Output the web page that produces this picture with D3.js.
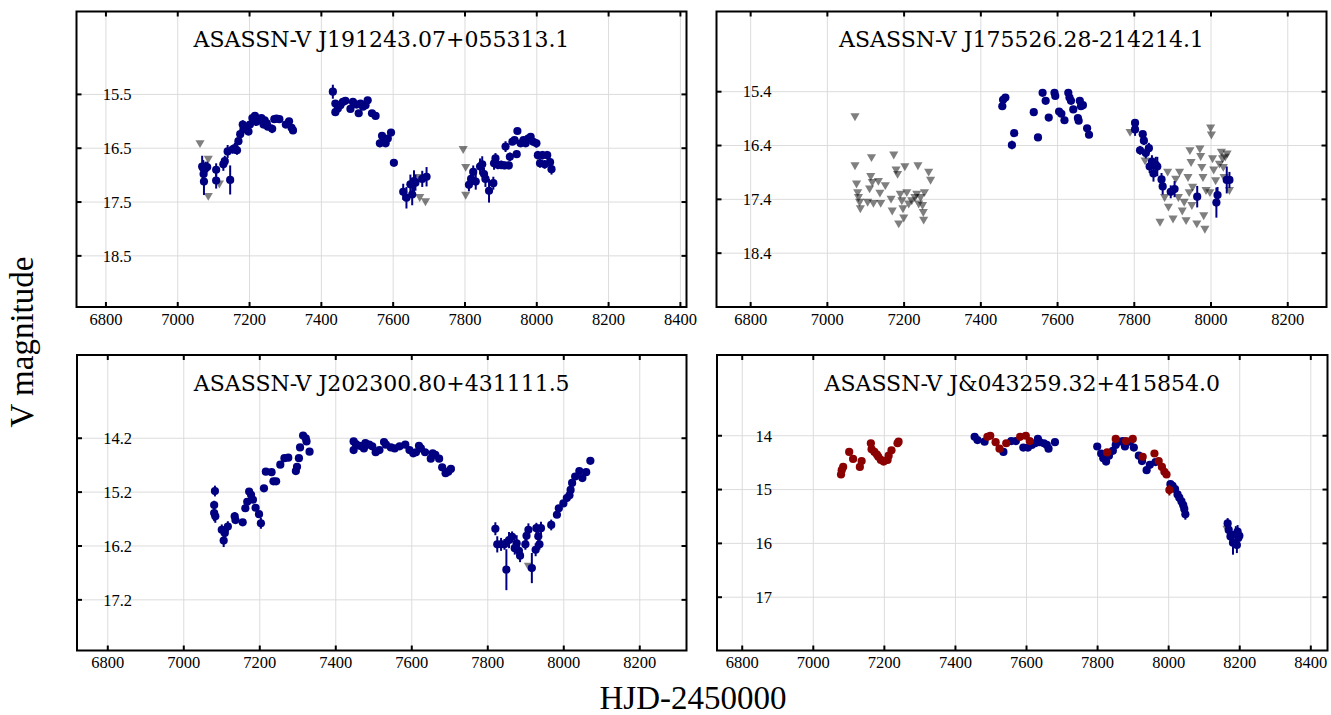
<!DOCTYPE html>
<html>
<head>
<meta charset="utf-8">
<script src="https://cdn.jsdelivr.net/npm/d3@7"></script>
<style>
  body { margin: 0; background: #fff; }
  svg { display: block; }
</style>
</head>
<body>
<div id="chart"></div>
<script>
// ---- data: [HJD-2450000, V mag, error] for detections, [HJD, limit] for upper limits ----
const p1Det = [
  [7068,16.84,0.20],[7071,16.87,0.15],[7072,16.98,0.12],[7073,17.12,0.25],[7077,16.87,0.12],[7082,16.85,0.10],
  [7107,16.90,0.12],[7107,17.10,0.15],[7127,16.80,0.12],[7131,16.74,0.10],[7139,16.56,0.12],[7146,17.09,0.27],
  [7153,16.52,0.08],[7159,16.50,0.10],[7165,16.54,0.08],[7169,16.37,0.06],[7174,16.24,0.06],[7181,16.06,0.08],
  [7183,16.15,0.06],[7192,16.14,0.05],[7197,16.19,0.05],[7201,16.06,0.05],[7208,15.94,0.05],[7215,15.90,0.04],
  [7219,16.01,0.05],[7229,15.96,0.05],[7233,15.94,0.05],[7239,16.06,0.05],[7242,15.98,0.05],[7248,16.04,0.05],
  [7251,16.10,0.05],[7263,16.14,0.08],[7269,15.96,0.04],[7275,15.95,0.04],[7283,15.96,0.04],[7301,16.06,0.05],
  [7310,16.00,0.04],[7317,16.12,0.05],[7321,16.17,0.05],
  [7432,15.45,0.13],[7439,15.67,0.05],[7439,15.83,0.04],[7446,15.76,0.04],[7453,15.70,0.04],[7460,15.64,0.04],
  [7467,15.62,0.04],[7481,15.77,0.05],[7488,15.64,0.04],[7498,15.69,0.05],[7504,15.85,0.06],[7509,15.67,0.04],
  [7516,15.73,0.05],[7523,15.70,0.04],[7529,15.61,0.04],[7541,15.85,0.04],[7551,15.90,0.04],[7563,16.41,0.07],
  [7569,16.27,0.06],[7574,16.37,0.06],[7579,16.41,0.05],[7585,16.32,0.06],[7594,16.21,0.06],[7602,16.77,0.07],
  [7628,17.31,0.15],[7637,17.42,0.20],[7648,17.17,0.18],[7653,17.36,0.20],[7658,17.11,0.20],[7662,17.14,0.15],
  [7681,17.07,0.15],[7693,17.03,0.18],
  [7811,17.18,0.12],[7817,17.07,0.15],[7823,16.94,0.12],[7830,17.12,0.15],[7842,16.84,0.15],[7848,16.80,0.15],
  [7853,16.98,0.12],[7857,17.07,0.15],[7867,17.29,0.22],[7879,17.15,0.12],[7881,16.78,0.12],[7885,16.69,0.10],
  [7892,16.81,0.08],[7901,16.81,0.08],[7910,16.82,0.07],[7913,16.47,0.10],[7922,16.82,0.07],[7925,16.66,0.08],
  [7932,16.38,0.06],[7938,16.35,0.06],[7944,16.61,0.06],[7946,16.18,0.05],[7955,16.41,0.06],[7963,16.35,0.06],
  [7969,16.41,0.06],[7976,16.32,0.06],[7983,16.29,0.07],[7990,16.38,0.07],[7999,16.41,0.08],[8003,16.63,0.08],
  [8009,16.78,0.08],[8016,16.63,0.08],[8022,16.80,0.08],[8029,16.63,0.08],[8037,16.76,0.08],[8041,16.89,0.10]
];
const p1Lim = [
  [7062,16.40],[7085,16.69],[7085,17.38],[7116,17.15],[7672,17.03],[7674,17.40],[7690,17.48],
  [7795,16.51],[7802,16.84],[7802,17.36]
];

const p2Det = [
  [7456,15.67,0.04],[7458,15.55,0.04],[7464,15.51,0.05],[7481,16.39,0.08],[7487,16.17,0.06],[7538,15.78,0.04],
  [7549,16.25,0.06],[7561,15.42,0.04],[7569,15.57,0.04],[7577,15.88,0.04],[7592,15.42,0.04],[7594,15.48,0.04],
  [7604,15.77,0.04],[7610,15.81,0.04],[7618,15.93,0.06],[7628,15.42,0.04],[7631,15.51,0.04],[7635,15.57,0.04],
  [7641,15.73,0.04],[7653,15.89,0.04],[7655,15.94,0.04],[7658,15.57,0.04],[7661,15.67,0.04],[7666,15.65,0.04],
  [7677,16.08,0.06],[7682,16.20,0.06],
  [7802,15.98,0.06],[7802,16.10,0.12],[7815,16.49,0.08],[7822,16.19,0.06],[7825,16.31,0.08],[7830,16.54,0.10],
  [7838,16.45,0.10],[7840,16.79,0.12],[7846,16.70,0.12],[7850,16.92,0.15],[7856,16.76,0.15],[7860,16.79,0.18],
  [7871,17.03,0.12],[7874,17.16,0.15],[7895,17.26,0.12],[7905,17.21,0.15],[7964,17.35,0.20],[8014,17.46,0.28],
  [8017,17.32,0.15],[8041,17.04,0.25],[8048,17.04,0.15]
];
const p2Lim = [
  [7072,15.85],[7072,16.76],[7076,17.10],[7079,17.26],[7081,17.35],[7084,17.44],[7086,17.56],[7105,17.44],
  [7110,17.19],[7113,16.96],[7115,16.61],[7117,17.07],[7120,17.46],[7133,17.05],[7137,17.27],[7139,17.46],
  [7151,17.13],[7166,17.38],[7169,17.60],[7173,16.56],[7179,16.84],[7183,16.92],[7186,17.84],[7190,17.29],
  [7194,17.41],[7197,17.56],[7199,17.73],[7202,16.78],[7207,17.26],[7212,17.47],[7220,17.41],[7228,17.35],
  [7233,17.29],[7236,16.76],[7238,17.47],[7243,17.35],[7248,17.50],[7250,17.63],[7251,17.77],[7253,17.26],
  [7264,16.88],[7269,17.03],
  [7789,16.14],[7828,16.67],[7867,17.81],[7879,17.35],[7887,16.88],[7889,17.53],[7901,17.75],[7908,17.01],
  [7915,17.35],[7918,16.88],[7925,17.60],[7930,17.44],[7935,17.78],[7940,16.98],[7943,17.26],[7945,16.48],
  [7948,16.70],[7950,17.50],[7952,17.16],[7963,17.84],[7971,16.45],[7973,16.59],[7976,16.79],[7979,16.98],
  [7981,17.69],[7984,17.94],[7987,17.22],[7997,17.26],[7999,16.06],[8001,16.19],[8004,16.63],[8007,16.84],
  [8012,17.04],[8022,16.73],[8027,16.51],[8030,16.63],[8032,16.79],[8034,16.98],[8037,16.60],[8042,16.54],
  [8048,17.22]
];

const p3Det = [
  [7080,15.59,0.15],[7080,15.44,0.08],[7082,15.18,0.10],[7083,15.65,0.12],[7100,15.90,0.10],[7105,16.10,0.12],
  [7108,15.96,0.10],[7116,15.84,0.10],[7134,15.65,0.08],[7136,15.72,0.06],[7155,15.76,0.06],[7162,15.50,0.05],
  [7167,15.38,0.06],[7172,15.19,0.05],[7177,15.25,0.05],[7182,15.34,0.05],[7189,15.49,0.06],[7198,15.61,0.06],
  [7203,15.78,0.10],[7211,15.13,0.04],[7216,14.82,0.04],[7231,14.83,0.04],[7236,15.00,0.04],[7243,15.00,0.04],
  [7254,14.69,0.04],[7265,14.57,0.04],[7275,14.56,0.04],[7295,14.81,0.04],[7298,14.73,0.04],[7303,14.57,0.04],
  [7306,14.37,0.04],[7314,14.15,0.03],[7321,14.20,0.03],[7323,14.26,0.03],[7331,14.45,0.03],
  [7447,14.26,0.03],[7447,14.42,0.06],[7453,14.31,0.03],[7463,14.34,0.03],[7474,14.39,0.03],[7478,14.29,0.03],
  [7488,14.32,0.03],[7496,14.35,0.03],[7505,14.46,0.03],[7515,14.42,0.03],[7527,14.27,0.03],[7532,14.32,0.03],
  [7545,14.37,0.03],[7555,14.39,0.03],[7568,14.35,0.03],[7583,14.32,0.03],[7594,14.42,0.03],[7604,14.48,0.03],
  [7611,14.46,0.03],[7619,14.34,0.03],[7624,14.39,0.03],[7635,14.46,0.03],[7650,14.58,0.03],[7655,14.48,0.03],
  [7662,14.51,0.03],[7672,14.58,0.03],[7680,14.74,0.03],[7689,14.85,0.03],[7696,14.82,0.03],[7703,14.77,0.03],
  [7820,15.88,0.12],[7825,16.17,0.15],[7835,16.17,0.12],[7844,16.17,0.10],[7849,16.64,0.38],[7856,16.09,0.15],
  [7864,16.03,0.10],[7871,16.24,0.12],[7876,16.15,0.15],[7882,16.29,0.15],[7885,16.38,0.12],[7899,16.17,0.10],
  [7902,16.01,0.12],[7907,15.90,0.12],[7916,16.61,0.28],[7926,16.27,0.12],[7928,15.87,0.10],[7933,16.02,0.12],
  [7936,16.17,0.10],[7940,15.87,0.12],[7967,15.81,0.10],[7982,15.62,0.06],[7987,15.50,0.05],[7999,15.41,0.04],
  [8008,15.31,0.04],[8015,15.26,0.04],[8018,15.16,0.04],[8022,15.03,0.04],[8030,14.91,0.04],[8041,14.81,0.04],
  [8049,14.94,0.04],[8059,14.83,0.04],[8070,14.62,0.04]
];
const p3Lim = [[7907,16.56]];

const p4DetB = [
  [7454,14.02,0.02],[7462,14.08,0.02],[7482,14.11,0.02],[7535,14.30,0.02],[7557,14.10,0.02],[7570,14.10,0.02],
  [7591,14.22,0.02],[7604,14.22,0.02],[7615,14.17,0.02],[7624,14.14,0.02],[7632,14.06,0.02],[7637,14.12,0.02],
  [7649,14.14,0.02],[7657,14.17,0.02],[7662,14.24,0.02],[7680,14.12,0.02],
  [7799,14.20,0.02],[7810,14.33,0.03],[7816,14.42,0.03],[7824,14.48,0.03],[7832,14.37,0.03],[7843,14.28,0.02],
  [7851,14.17,0.02],[7860,14.11,0.02],[7871,14.10,0.02],[7877,14.20,0.02],[7891,14.11,0.02],[7902,14.22,0.02],
  [7916,14.37,0.03],[7925,14.47,0.03],[7938,14.64,0.03],[7947,14.54,0.03],[7963,14.49,0.03],
  [8005,14.90,0.04],[8011,14.93,0.04],[8018,14.99,0.05],[8025,15.09,0.06],[8030,15.15,0.06],[8036,15.22,0.06],
  [8041,15.29,0.07],[8044,15.36,0.08],[8047,15.46,0.10],
  [8166,15.63,0.10],[8169,15.75,0.12],[8174,15.87,0.15],[8181,15.99,0.22],[8189,15.83,0.15],[8194,15.78,0.12],
  [8196,15.90,0.15],[8199,15.86,0.10],[8192,16.03,0.15]
];
const p4DetR = [
  [7078,14.72,0.02],[7080,14.64,0.02],[7084,14.58,0.02],[7101,14.30,0.02],[7112,14.43,0.02],[7131,14.58,0.02],
  [7136,14.47,0.02],[7162,14.14,0.02],[7164,14.25,0.02],[7172,14.30,0.02],[7179,14.35,0.02],[7183,14.39,0.02],
  [7190,14.45,0.02],[7198,14.48,0.02],[7209,14.45,0.02],[7212,14.37,0.02],[7220,14.27,0.02],[7237,14.14,0.02],
  [7240,14.11,0.02],
  [7490,14.02,0.02],[7498,14.00,0.02],[7513,14.12,0.02],[7524,14.24,0.02],[7543,14.14,0.02],[7582,14.02,0.02],
  [7598,14.00,0.02],[7609,14.10,0.02],
  [7827,14.31,0.02],[7851,14.06,0.02],[7880,14.10,0.02],[7899,14.06,0.02],[7927,14.39,0.02],[7960,14.33,0.02],
  [7972,14.47,0.02],[7981,14.58,0.02],[7988,14.67,0.02],[7994,14.72,0.02],[8002,15.01,0.10]
];
const p4Lim = [[8164,15.72]];

const titles = [
  "ASASSN-V J191243.07+055313.1",
  "ASASSN-V J175526.28-214214.1",
  "ASASSN-V J202300.80+431111.5",
  "ASASSN-V J&043259.32+415854.0"
];
const xTicks = [6800, 7000, 7200, 7400, 7600, 7800, 8000, 8200, 8400];
const yTicks1 = [15.5, 16.5, 17.5, 18.5];
const yTicks2 = [15.4, 16.4, 17.4, 18.4];
const yTicks3 = [14.2, 15.2, 16.2, 17.2];
const yTicks4 = [14, 15, 16, 17];

// ---- layout ----
const W = 1331, H = 715;
const NAVY = "#000080", DARKRED = "#8b0000";

const panels = [
  { title: titles[0], box: [76.5, 11.5, 686.5, 307], xd: [6718, 8417], yd: [13.96, 19.45], yt: yTicks1,
    lim: p1Lim, det: [[p1Det, NAVY]] },
  { title: titles[1], box: [716.5, 11.5, 1326.5, 307], xd: [6711, 8301], yd: [13.91, 19.40], yt: yTicks2,
    lim: p2Lim, det: [[p2Det, NAVY]] },
  { title: titles[2], box: [77, 355, 686.5, 650.5], xd: [6719, 8323], yd: [12.655, 18.14], yt: yTicks3,
    lim: p3Lim, det: [[p3Det, NAVY]] },
  { title: titles[3], box: [717, 355, 1327.5, 650.5], xd: [6729, 8447], yd: [12.50, 17.99], yt: yTicks4,
    lim: p4Lim, det: [[p4DetB, NAVY], [p4DetR, DARKRED]] }
];

const svg = d3.select("#chart").append("svg")
  .attr("width", W)
  .attr("height", H)
  .style("background", "#fff");

const tickFont = "'Liberation Serif', 'Times New Roman', serif";
const titleFont = "'DejaVu Serif', serif";

panels.forEach(p => {
  const [x0, y0, x1, y1] = p.box;
  const x = d3.scaleLinear().domain(p.xd).range([x0, x1]);
  const y = d3.scaleLinear().domain(p.yd).range([y0, y1]);
  const xt = xTicks.filter(v => v >= p.xd[0] && v <= p.xd[1]);

  const g = svg.append("g");

  // grid
  g.selectAll("line.gx").data(xt).enter().append("line")
    .attr("x1", d => x(d)).attr("x2", d => x(d))
    .attr("y1", y0).attr("y2", y1)
    .attr("stroke", "#dcdcdc").attr("stroke-width", 1);
  g.selectAll("line.gy").data(p.yt).enter().append("line")
    .attr("y1", d => y(d)).attr("y2", d => y(d))
    .attr("x1", x0).attr("x2", x1)
    .attr("stroke", "#dcdcdc").attr("stroke-width", 1);

  // upper limits (down triangles)
  const tri = d3.symbol().type(d3.symbolTriangle).size(36);
  g.selectAll("path.lim").data(p.lim).enter().append("path")
    .attr("d", tri)
    .attr("transform", d => `translate(${x(d[0])},${y(d[1])}) rotate(180)`)
    .attr("fill", "#000")
    .attr("fill-opacity", 0.5);

  // detections with error bars
  p.det.forEach(([rows, color]) => {
    g.selectAll(null).data(rows).enter().append("line")
      .attr("x1", d => x(d[0])).attr("x2", d => x(d[0]))
      .attr("y1", d => y(d[1] - d[2])).attr("y2", d => y(d[1] + d[2]))
      .attr("stroke", color).attr("stroke-width", 2);
    g.selectAll(null).data(rows).enter().append("circle")
      .attr("cx", d => x(d[0])).attr("cy", d => y(d[1]))
      .attr("r", 4.1)
      .attr("fill", color);
  });

  // ticks (inward, all four sides)
  const tl = 5;
  xt.forEach(v => {
    g.append("line").attr("x1", x(v)).attr("x2", x(v)).attr("y1", y1).attr("y2", y1 - tl)
      .attr("stroke", "#000").attr("stroke-width", 2);
    g.append("line").attr("x1", x(v)).attr("x2", x(v)).attr("y1", y0).attr("y2", y0 + tl)
      .attr("stroke", "#000").attr("stroke-width", 2);
  });
  p.yt.forEach(v => {
    g.append("line").attr("x1", x0).attr("x2", x0 + tl).attr("y1", y(v)).attr("y2", y(v))
      .attr("stroke", "#000").attr("stroke-width", 2);
    g.append("line").attr("x1", x1).attr("x2", x1 - tl).attr("y1", y(v)).attr("y2", y(v))
      .attr("stroke", "#000").attr("stroke-width", 2);
  });

  // frame
  g.append("rect")
    .attr("x", x0).attr("y", y0).attr("width", x1 - x0).attr("height", y1 - y0)
    .attr("fill", "none").attr("stroke", "#000").attr("stroke-width", 2);

  // tick labels
  g.selectAll("text.xl").data(xt).enter().append("text")
    .attr("x", d => x(d)).attr("y", y1 + 17.5)
    .attr("text-anchor", "middle")
    .style("font-family", tickFont).style("font-size", "16.5px")
    .text(d => d);
  g.selectAll("text.yl").data(p.yt).enter().append("text")
    .attr("x", x0 + 55).attr("y", d => y(d))
    .attr("dy", "0.35em")
    .attr("text-anchor", "end")
    .style("font-family", tickFont).style("font-size", "16.5px")
    .text(d => d);

  // title
  g.append("text")
    .attr("x", (x0 + x1) / 2).attr("y", y0 + 35.5)
    .attr("text-anchor", "middle")
    .style("font-family", titleFont).style("font-size", "22px")
    .text(p.title);
});

// axis labels
svg.append("text")
  .attr("transform", "translate(33,342) rotate(-90)")
  .attr("text-anchor", "middle")
  .style("font-family", tickFont).style("font-size", "33px")
  .text("V magnitude");
svg.append("text")
  .attr("x", 693).attr("y", 709)
  .attr("text-anchor", "middle")
  .style("font-family", tickFont).style("font-size", "33px")
  .text("HJD-2450000");
</script>
</body>
</html>
